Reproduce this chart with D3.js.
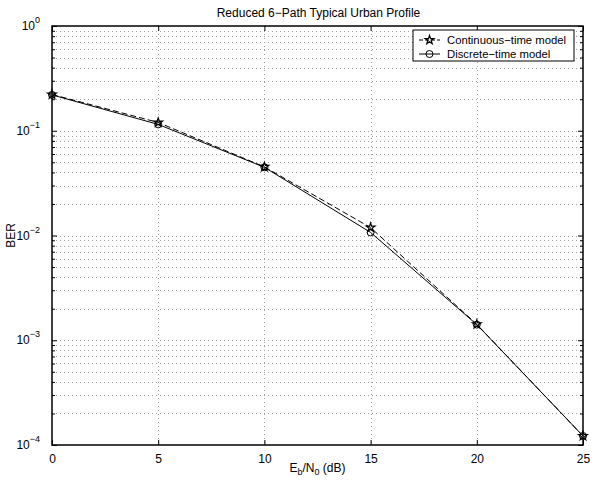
<!DOCTYPE html>
<html>
<head>
<meta charset="utf-8">
<script src="https://cdn.jsdelivr.net/npm/d3@7"></script>
<style>
  body { margin: 0; background: #fff; }
  svg text { font-family: "Liberation Sans", Arial, Helvetica, sans-serif; fill: #000; }
</style>
</head>
<body>
<div id="chart"></div>
<script>
// data
const snrDb = [0, 5, 10, 15, 20, 25];
const berContinuous = [0.222, 0.120, 0.0452, 0.0119, 0.00142, 1.22e-4];
const berDiscrete = [0.220, 0.115, 0.0448, 0.0107, 0.00141, 1.22e-4];
const xTicks = [0, 5, 10, 15, 20, 25];
const yExponents = [0, -1, -2, -3, -4];
const seriesNames = ['Continuous\u2212time model', 'Discrete\u2212time model'];

const width = 596, height = 481;
const pLeft = 52, pRight = 583, pTop = 26, pBottom = 445;

const svg = d3.select('#chart').append('svg')
    .attr('width', width)
    .attr('height', height);

const x = d3.scaleLinear().domain([0, 25]).range([pLeft, pRight]);
const y = d3.scaleLog().domain([1e-4, 1]).range([pBottom, pTop]);

// minor log ticks
const minorVals = [];
for (let e = -4; e < 0; e++) {
    for (let m = 2; m <= 9; m++) minorVals.push(m * Math.pow(10, e));
}
const majorVals = yExponents.map(e => Math.pow(10, e));

// grid
const grid = svg.append('g')
    .attr('stroke', '#a0a0a0')
    .attr('stroke-width', 1)
    .attr('stroke-dasharray', '1,3')
    .attr('shape-rendering', 'crispEdges');

grid.selectAll('line.gx')
    .data(xTicks.slice(1, -1))
    .enter().append('line')
    .attr('x1', d => Math.round(x(d)) + 0.5)
    .attr('x2', d => Math.round(x(d)) + 0.5)
    .attr('y1', pTop)
    .attr('y2', pBottom);

grid.selectAll('line.gy')
    .data(minorVals.concat(majorVals.slice(1, -1)))
    .enter().append('line')
    .attr('x1', pLeft)
    .attr('x2', pRight)
    .attr('y1', d => Math.round(y(d)) + 0.5)
    .attr('y2', d => Math.round(y(d)) + 0.5);

// axes with ticks on all four sides, pointing inward
const xAxisB = d3.axisBottom(x).tickValues(xTicks).tickSizeInner(-5).tickSizeOuter(0).tickPadding(9);
const xAxisT = d3.axisTop(x).tickValues(xTicks).tickSizeInner(-5).tickSizeOuter(0).tickFormat('');
const yAxisL = d3.axisLeft(y).tickValues(majorVals).tickSizeInner(-5).tickSizeOuter(0).tickFormat('');
const yAxisR = d3.axisRight(y).tickValues(majorVals).tickSizeInner(-5).tickSizeOuter(0).tickFormat('');
const yMinorL = d3.axisLeft(y).tickValues(minorVals).tickSizeInner(-3).tickSizeOuter(0).tickFormat('');
const yMinorR = d3.axisRight(y).tickValues(minorVals).tickSizeInner(-3).tickSizeOuter(0).tickFormat('');

const gxB = svg.append('g').attr('transform', `translate(0,${pBottom})`).call(xAxisB);
svg.append('g').attr('transform', `translate(0,${pTop})`).call(xAxisT);
svg.append('g').attr('transform', `translate(${pLeft},0)`).call(yAxisL);
svg.append('g').attr('transform', `translate(${pRight},0)`).call(yAxisR);
svg.append('g').attr('transform', `translate(${pLeft},0)`).call(yMinorL);
svg.append('g').attr('transform', `translate(${pRight},0)`).call(yMinorR);

svg.selectAll('.domain').remove();
svg.selectAll('.tick line').attr('stroke', '#000').attr('stroke-width', 1);
gxB.selectAll('text').attr('font-size', 12).attr('font-family', null);

// y tick labels 10^n
const yl = svg.append('g');
yExponents.forEach(e => {
    const t = yl.append('text')
        .attr('x', pLeft - 12)
        .attr('y', y(Math.pow(10, e)) + 4)
        .attr('text-anchor', 'end')
        .attr('font-size', 12);
    t.append('tspan').text('10');
    t.append('tspan')
        .attr('dy', -7)
        .attr('font-size', 9)
        .text(e < 0 ? '\u2212' + Math.abs(e) : String(e));
});

// box
svg.append('rect')
    .attr('x', pLeft).attr('y', pTop)
    .attr('width', pRight - pLeft).attr('height', pBottom - pTop)
    .attr('fill', 'none').attr('stroke', '#000').attr('stroke-width', 1.5);

// lines
const line = d3.line().x(d => x(d[0])).y(d => y(d[1]));
const contPts = snrDb.map((v, i) => [v, berContinuous[i]]);
const discPts = snrDb.map((v, i) => [v, berDiscrete[i]]);

svg.append('path').datum(contPts)
    .attr('d', line).attr('fill', 'none').attr('stroke', '#000')
    .attr('stroke-width', 1).attr('stroke-dasharray', '6,3');
svg.append('path').datum(discPts)
    .attr('d', line).attr('fill', 'none').attr('stroke', '#000')
    .attr('stroke-width', 1);

const star = d3.symbol().type(d3.symbolStar).size(24);

svg.selectAll('path.star').data(contPts).enter().append('path')
    .attr('class', 'star')
    .attr('d', star)
    .attr('transform', d => `translate(${x(d[0])},${y(d[1])})`)
    .attr('fill', 'none').attr('stroke', '#000').attr('stroke-width', 1.2);

svg.selectAll('circle.mk').data(discPts).enter().append('circle')
    .attr('class', 'mk')
    .attr('cx', d => x(d[0])).attr('cy', d => y(d[1])).attr('r', 3.5)
    .attr('fill', 'none').attr('stroke', '#000').attr('stroke-width', 1);

// title and labels
svg.append('text')
    .attr('x', (pLeft + pRight) / 2 + 1).attr('y', 17)
    .attr('text-anchor', 'middle').attr('font-size', 12)
    .text('Reduced 6\u2212Path Typical Urban Profile');

const xl = svg.append('text')
    .attr('x', (pLeft + pRight) / 2).attr('y', 472)
    .attr('text-anchor', 'middle').attr('font-size', 12);
xl.append('tspan').text('E');
xl.append('tspan').attr('dy', 3).attr('font-size', 9).text('b');
xl.append('tspan').attr('dy', -3).text('/N');
xl.append('tspan').attr('dy', 3).attr('font-size', 9).text('0');
xl.append('tspan').attr('dy', -3).text(' (dB)');

svg.append('text')
    .attr('transform', `translate(15,${(pTop + pBottom) / 2}) rotate(-90)`)
    .attr('text-anchor', 'middle').attr('font-size', 12)
    .text('BER');

// legend
const lg = svg.append('g');
lg.append('rect')
    .attr('x', 413).attr('y', 30).attr('width', 161).attr('height', 31)
    .attr('fill', '#fff').attr('stroke', '#000').attr('stroke-width', 1);
const rows = [40, 54];
rows.forEach((ry, i) => {
    lg.append('line')
        .attr('x1', 419).attr('x2', 440).attr('y1', ry).attr('y2', ry)
        .attr('stroke', '#000').attr('stroke-width', 1)
        .attr('stroke-dasharray', i === 0 ? '4,2' : null);
    if (i === 0) {
        lg.append('path').attr('d', star)
            .attr('transform', `translate(429.5,${ry})`)
            .attr('fill', 'none').attr('stroke', '#000').attr('stroke-width', 1.2);
    } else {
        lg.append('circle').attr('cx', 429.5).attr('cy', ry).attr('r', 3.5)
            .attr('fill', 'none').attr('stroke', '#000');
    }
    lg.append('text')
        .attr('x', 447).attr('y', ry + 4)
        .attr('font-size', 11.3)
        .text(seriesNames[i]);
});
</script>
</body>
</html>
